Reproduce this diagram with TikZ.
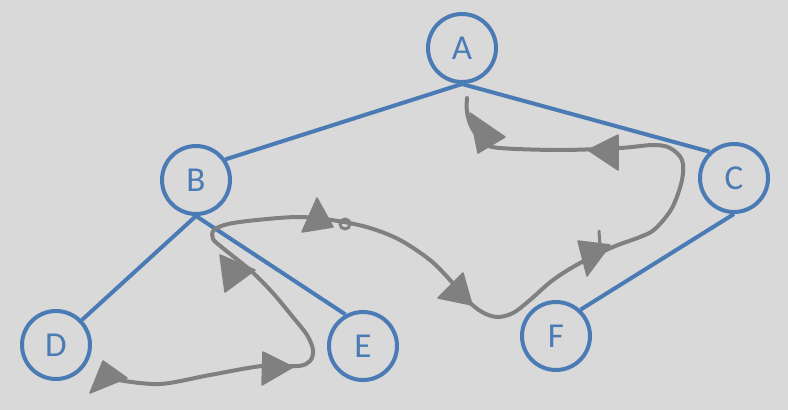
\documentclass[tikz,border=0pt]{standalone}
\usepackage{fontspec}
\setmainfont{Carlito}
\definecolor{bg}{HTML}{D9D9D9}
\definecolor{treeblue}{HTML}{4A7BB5}
\definecolor{tourgray}{HTML}{808080}
\begin{document}
\begin{tikzpicture}[x=1pt,y=-1pt,
  vertex/.style={circle, draw=treeblue, line width=4pt, fill=bg,
    minimum size=68pt, inner sep=0pt, text=treeblue,
    font=\fontsize{35}{40}\selectfont},
  treeedge/.style={draw=treeblue, line width=4pt},
  tour/.style={draw=tourgray, line width=4pt, line cap=round, line join=round},
  tourhead/.style={fill=tourgray, draw=tourgray, line width=1.5pt, line join=round}]
  % canvas
  \fill[bg] (0,0) rectangle (788,410);
  \useasboundingbox (0,0) rectangle (788,410);

  % tree vertices
  \node[vertex] (A) at (462,48)  {A};
  \node[vertex] (B) at (196,180) {B};
  \node[vertex] (C) at (734,178) {C};
  \node[vertex] (D) at (56,345)  {D};
  \node[vertex] (E) at (363,346) {E};
  \node[vertex] (F) at (556,336) {F};

  % tree edges
  \draw[treeedge] (A.south) -- (B.35);
  \draw[treeedge] (A.south) -- (C.133);
  \draw[treeedge] (B.south) -- (D.44);
  \draw[treeedge] (B.south) -- (E.119);
  \draw[treeedge] (C.south) -- (F.47);

  % traversal tour around the tree
  \draw[tour] plot[smooth, tension=0.55] coordinates {
    (118,380) (160,384) (210,375) (262,366) (298,366) (310,361)
    (313,350) (307,335) (292,316) (272,292) (250,270) (224,249)
    (213,239) (214,230) (228,224) (257,220) (300,217) (338,221)
    (370,228) (400,240) (430,260) (450,280) (467,300) (482,312)
    (497,317) (513,313) (530,300) (553,280) (580,263) (613,247)
    (640,237) (655,229) (672,208) (682,180) (682,160) (670,148)
    (653,145) (620,148) (560,150) (500,148) (484,143) (472,128)
    (467,112) (467,98)};
  % small loop and tick on the tour
  \draw[tour, line width=3pt] (345,224) circle[radius=5];
  \draw[tour, line width=3pt] (600,246) -- (599,231);

  % direction marks on the tour
  \filldraw[tourhead] (103,361) -- (90,393) -- (127,378) -- cycle;
  \filldraw[tourhead] (263,352) -- (262,385) -- (293,367) -- cycle;
  \filldraw[tourhead] (220,255) -- (225,292) -- (255,270) -- cycle;
  \filldraw[tourhead] (317,198) -- (302,232) -- (333,227) -- cycle;
  \filldraw[tourhead] (463,273) -- (438,298) -- (472,305) -- cycle;
  \filldraw[tourhead] (578,241) -- (587,276) -- (610,245) -- cycle;
  \filldraw[tourhead] (618,135) -- (618,170) -- (588,150) -- cycle;
  \filldraw[tourhead] (470,113) -- (478,153) -- (505,137) -- cycle;
\end{tikzpicture}
\end{document}
